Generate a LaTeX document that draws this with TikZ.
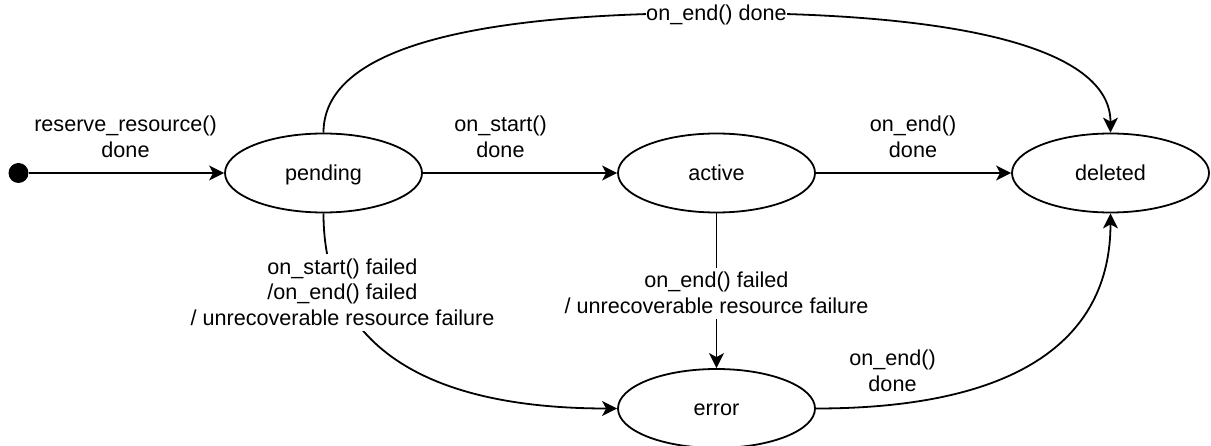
\documentclass[tikz,border=0pt]{standalone}
\usepackage{fontspec}
\setmainfont{Liberation Sans}
\usetikzlibrary{shapes.geometric,arrows.meta}
\newcommand{\ls}{\rule[-5.52pt]{0pt}{25.92pt}}
\begin{document}
\begin{tikzpicture}[x=1pt,y=-1pt,
  txt/.style={font=\fontsize{21.6}{25.92}\selectfont},
  state/.style={txt, draw, ellipse, line width=1.8pt, minimum width=197pt, minimum height=79pt, inner sep=0pt},
  lbl/.style={txt, align=center, inner sep=0pt},
  wlbl/.style={lbl, fill=white},
  edge/.style={line width=1.8pt, -{Stealth[length=15pt,width=15pt,inset=4pt]}}]
\useasboundingbox (0,0) rectangle (1211,446);
\node[circle, fill=black, minimum size=20pt, inner sep=0pt] (init) at (18.5,173) {};
\node[state] (pending) at (323.5,173) {\ls pending};
\node[state] (active) at (716.5,173) {\ls active};
\node[state] (deleted) at (1110.5,173) {\ls deleted};
\node[state] (error) at (716.5,408.5) {\ls error};
\coordinate (top) at (716.5,13);

\draw[edge] (init) -- (pending);
\draw[edge] (pending) -- (active);
\draw[edge] (active) -- (deleted);
\draw[edge] (active) -- (error);
\draw[edge] (pending.north) .. controls (323.5,53.2) and (454.5,13) .. (top)
  .. controls (979.2,13) and (1110.5,53.2) .. (deleted.north);
\draw[edge] (pending.south) .. controls (323.5,343.2) and (421.7,408.5) .. (error.west);
\draw[edge] (error.east) .. controls (1012.2,408.5) and (1110.5,343.2) .. (deleted.south);

\node[lbl] (l1) at (125.5,137.5) {\ls reserve\_resource()\\\ls done};
\node[lbl] (l2) at (500.5,137.5) {\ls on\_start()\\\ls done};
\node[lbl] (l3) at (913,137.5) {\ls on\_end()\\\ls done};
\node[wlbl] (l4) at (top) {\ls on\_end() done};
\node[wlbl] (l5) at (342.5,292.5) {\ls on\_start() failed\\\ls /on\_end() failed\\\ls / unrecoverable resource failure};
\node[wlbl] (l6) at (716.5,293.5) {\ls on\_end() failed\\\ls / unrecoverable resource failure};
\node[lbl] (l7) at (892.5,371.5) {\ls on\_end()\\\ls done};
\end{tikzpicture}
\end{document}
